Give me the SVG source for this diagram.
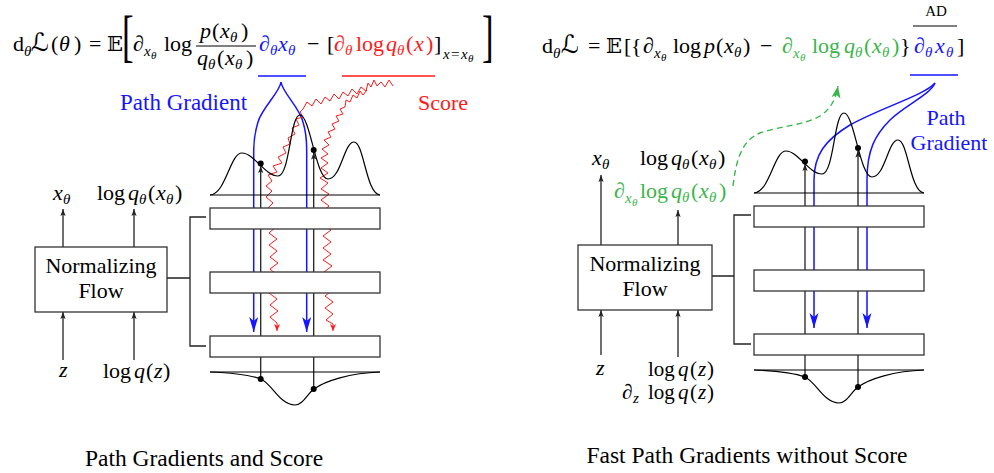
<svg xmlns="http://www.w3.org/2000/svg" width="994" height="473" viewBox="0 0 994 473">
<style>
.f{font-family:"Liberation Serif","DejaVu Serif",serif;font-size:22px;fill:#000}
.i{font-style:italic}
.s{font-size:15px}
.ss{font-size:11px}
.m{font-family:"DejaVu Serif","DejaVu Sans",serif;font-size:21px}
.L{font-size:25px}
.q{font-size:21px}
.b{fill:#1515ff}
.r{fill:#ff1a1a}
.g{fill:#3bb54a}
.ln{stroke:#222;stroke-width:1.3;fill:none}
.box{fill:#fff;stroke:#333;stroke-width:1.3}
.crv{fill:none;stroke:#000;stroke-width:1.2}
.bl{fill:none;stroke:#1515ff;stroke-width:1.5}
.rd{fill:none;stroke:#ff1a1a;stroke-width:1}
.gd{fill:none;stroke:#3bb54a;stroke-width:1.4;stroke-dasharray:6 4}
.dot{fill:#000}
</style>
<defs>
<marker id="ak" viewBox="-7 -3 8 6" refX="0" refY="0" markerWidth="8" markerHeight="6" markerUnits="userSpaceOnUse" orient="auto"><path d="M0,0 L-7,-2.6 L-5.5,0 L-7,2.6 Z" fill="#222"/></marker>
<marker id="ab" viewBox="-15 -5 16 10" refX="0" refY="0" markerWidth="16" markerHeight="10" markerUnits="userSpaceOnUse" orient="auto"><path d="M0,0 L-15,-4.5 L-11,0 L-15,4.5 Z" fill="#1515ff"/></marker>
<marker id="ar" viewBox="-7 -3 8 6" refX="0" refY="0" markerWidth="8" markerHeight="6" markerUnits="userSpaceOnUse" orient="auto"><path d="M0,0 L-7,-3 L-5,0 L-7,3 Z" fill="#ff1a1a"/></marker>
<marker id="ag" viewBox="-12 -5 13 10" refX="0" refY="0" markerWidth="13" markerHeight="10" markerUnits="userSpaceOnUse" orient="auto"><path d="M0,0 L-12,-4.5 L-9,0 L-12,4.5 Z" fill="#3bb54a"/></marker>
<path id="topc" d="M210,195 C226,194 230,153 242,153 C254,153 265,176 278,176 C290,176 290,115 300,115 C310,115 316,179 328,179 C341,179 344,142 354,142 C364,142 366,194 380,195"/>
<path id="botc" d="M210,372 C235,373 250,375 261,379 C272,384 280,405 295,405 C303,405 307,394 314,389 C325,381 350,373 380,372"/>
</defs>

<!-- connectors -->
<g id="connectors">
  <line class="ln" x1="63" y1="247" x2="63" y2="209" marker-end="url(#ak)"/>
  <line class="ln" x1="134" y1="247" x2="134" y2="209" marker-end="url(#ak)"/>
  <line class="ln" x1="63" y1="360" x2="63" y2="312" marker-end="url(#ak)"/>
  <line class="ln" x1="134" y1="360" x2="134" y2="312" marker-end="url(#ak)"/>
  <path class="ln" d="M167,278 H190 M206,217 H190 V346 H206"/>
  <line class="ln" x1="601" y1="245" x2="601" y2="175" marker-end="url(#ak)"/>
  <line class="ln" x1="678" y1="245" x2="678" y2="210" marker-end="url(#ak)"/>
  <line class="ln" x1="601" y1="355" x2="601" y2="310" marker-end="url(#ak)"/>
  <line class="ln" x1="678" y1="357" x2="678" y2="310" marker-end="url(#ak)"/>
  <path class="ln" d="M712,276 H734 M751,215 H734 V344 H751"/>
  <line class="ln" x1="260.7" y1="379" x2="260.7" y2="166" marker-end="url(#ak)"/>
  <line class="ln" x1="313.7" y1="389" x2="313.7" y2="152.5" marker-end="url(#ak)"/>
  <path class="bl" d="M281,82 C280,92 262,108 258,122 C255,132 253.7,140 253.7,150 L253.7,332" marker-end="url(#ab)"/>
  <path class="bl" d="M281,82 C282,92 300,108 303,122 C306,132 306.7,140 306.7,150 L306.7,332" marker-end="url(#ab)"/>
  <path class="rd" marker-end="url(#ar)" d="M393,86 L389,80 L385,87 L381,82 L377,86 L374,80 L371,87 L368,83 L366,91 L361,87 L357,94 L352,89 L348,96 L343,92 L339,99 L334,94 L330,101 L325,97 L321,104 L316,99 L312,106 L307,102 L303,109 L300,112 L303,117 L296,119 L299,125 L292,128 L295,134 L288,138 L290,144 L283,147 L286,153 L278,157 L282,163 L273,166 L277,172 L268,175 L272,181 L266,186 L272,191 L266,197 L273,203 L267,209 L275,215 L268,221 L276,227 L269,233 L277,239 L269,245 L277,251 L270,257 L278,263 L270,269 L277,275 L269,281 L277,287 L269,293 L277,299 L270,305 L278,311 L270,317 L277,323 L277,331"/>
  <path class="rd" marker-end="url(#ar)" d="M367,90 L363,95 L360,91 L357,98 L353,95 L350,102 L346,100 L345,107 L340,109 L343,114 L336,116 L339,121 L332,124 L335,129 L328,132 L331,137 L324,140 L329,145 L322,149 L328,154 L321,158 L328,163 L321,168 L328,173 L320,178 L328,183 L321,189 L329,194 L321,200 L329,206 L322,212 L330,218 L322,224 L331,230 L323,236 L331,242 L323,248 L331,254 L323,260 L332,266 L324,272 L332,278 L324,284 L333,290 L325,296 L333,302 L325,308 L333,314 L326,320 L333,324 L333,331"/>
  <line class="ln" x1="805" y1="377" x2="805" y2="164" marker-end="url(#ak)"/>
  <line class="ln" x1="858" y1="387" x2="858" y2="150.5" marker-end="url(#ak)"/>
  <path class="bl" d="M935,83 C925,95 880,108 850,125 C825,140 814,155 814,180 L814,328" marker-end="url(#ab)"/>
  <path class="bl" d="M935,83 C930,95 905,105 890,120 C875,135 867,150 867,180 L867,328" marker-end="url(#ab)"/>
  <path class="gd" d="M733,186 C736,160 742,140 760,133 C780,126 805,125 820,116 C832,108 836,98 838,86" marker-end="url(#ag)"/>
</g>

<g id="nf-left">
  <rect class="box" x="35" y="247" width="132" height="65"/>
  <text class="f" x="101" y="273" text-anchor="middle">Normalizing</text>
  <text class="f" x="101" y="298" text-anchor="middle">Flow</text>
</g>
<g id="layers-left">
  <rect class="box" x="210" y="208" width="170" height="21"/>
  <rect class="box" x="210" y="272" width="170" height="21"/>
  <rect class="box" x="210" y="336" width="170" height="21"/>
</g>
<g id="target-density-left">
  <line class="crv" x1="210" y1="195" x2="380" y2="195"/>
  <use href="#topc" class="crv"/>
  <circle class="dot" cx="260.7" cy="163.5" r="3"/>
  <circle class="dot" cx="313.7" cy="150" r="3"/>
</g>
<g id="base-density-left">
  <line class="crv" x1="210" y1="372" x2="380" y2="372"/>
  <use href="#botc" class="crv"/>
  <circle class="dot" cx="260.7" cy="379" r="3"/>
  <circle class="dot" cx="313.7" cy="389" r="3"/>
</g>

<g id="nf-right">
  <rect class="box" x="578" y="245" width="134" height="65"/>
  <text class="f" x="645" y="271" text-anchor="middle">Normalizing</text>
  <text class="f" x="645" y="296" text-anchor="middle">Flow</text>
</g>
<g id="layers-right">
  <rect class="box" x="754" y="206" width="170" height="21"/>
  <rect class="box" x="754" y="270" width="170" height="21"/>
  <rect class="box" x="754" y="334" width="170" height="21"/>
</g>
<g id="target-density-right" transform="translate(544,-2)">
  <line class="crv" x1="210" y1="195" x2="380" y2="195"/>
  <use href="#topc" class="crv"/>
</g>
<g id="base-density-right" transform="translate(544,-2)">
  <line class="crv" x1="210" y1="372" x2="380" y2="372"/>
  <use href="#botc" class="crv"/>
</g>
<g id="dots-right">
  <circle class="dot" cx="805" cy="161.5" r="3"/>
  <circle class="dot" cx="858" cy="148" r="3"/>
  <circle class="dot" cx="805" cy="377" r="3"/>
  <circle class="dot" cx="858" cy="387" r="3"/>
</g>

<g id="formula-left" class="f">
  <text x="13" y="51">d</text>
  <text x="24" y="56" class="s i">θ</text>
  <text x="31" y="51" class="m L">ℒ</text>
  <text x="51" y="51">(</text>
  <text x="59" y="51" class="i">θ</text>
  <text x="74" y="51">)</text>
  <text x="89" y="51">=</text>
  <text x="107" y="51" class="m">𝔼</text>
  <text transform="translate(122,55.4) scale(0.6,1)" style="font-size:58px">[</text>
  <text x="133" y="51" class="i">∂</text>
  <text x="144" y="56" class="s i">x</text>
  <text x="151" y="59" class="ss i">θ</text>
  <text x="164" y="51">log</text>
  <text x="200" y="38" class="i">p</text>
  <text x="212" y="38">(</text>
  <text x="220" y="38" class="i">x</text>
  <text x="230" y="42" class="s i">θ</text>
  <text x="241" y="38">)</text>
  <line x1="196" y1="46" x2="256" y2="46" stroke="#000" stroke-width="1"/>
  <text x="197" y="65" class="i">q</text>
  <text x="208" y="69" class="s i">θ</text>
  <text x="217" y="65">(</text>
  <text x="225" y="65" class="i">x</text>
  <text x="235" y="69" class="s i">θ</text>
  <text x="246" y="65">)</text>
  <text x="259" y="51" class="i b">∂</text>
  <text x="270" y="55" class="s i b">θ</text>
  <text x="278" y="51" class="i b">x</text>
  <text x="288" y="55" class="s i b">θ</text>
  <text x="307" y="51">−</text>
  <text x="327" y="51">[</text>
  <text x="334" y="51" class="i r">∂</text>
  <text x="345" y="55" class="s i r">θ</text>
  <text x="356" y="51" class="r">log</text>
  <text x="386" y="51" class="i r">q</text>
  <text x="397" y="55" class="s i r">θ</text>
  <text x="406" y="51" class="r">(</text>
  <text x="414" y="51" class="i r">x</text>
  <text x="426" y="51" class="r">)</text>
  <text x="434" y="51">]</text>
  <text x="443" y="59" class="s i">x</text>
  <text x="451" y="59" class="s">=</text>
  <text x="461" y="59" class="s i">x</text>
  <text x="468" y="62" class="ss i">θ</text>
  <text transform="translate(482,55.4) scale(0.6,1)" style="font-size:58px">]</text>
</g>

<g id="formula-right" class="f">
  <text x="542" y="53">d</text>
  <text x="553" y="58" class="s i">θ</text>
  <text x="561" y="53" class="m L">ℒ</text>
  <text x="588" y="53">=</text>
  <text x="606" y="53" class="m">𝔼</text>
  <text x="624" y="53">[</text>
  <text x="631" y="53">{</text>
  <text x="643" y="53" class="i">∂</text>
  <text x="654" y="58" class="s i">x</text>
  <text x="661" y="61" class="ss i">θ</text>
  <text x="673" y="53">log</text>
  <text x="704" y="53" class="i">p</text>
  <text x="716" y="53">(</text>
  <text x="724" y="53" class="i">x</text>
  <text x="734" y="57" class="s i">θ</text>
  <text x="743" y="53">)</text>
  <text x="760" y="53">−</text>
  <text x="782" y="53" class="i g">∂</text>
  <text x="793" y="58" class="s i g">x</text>
  <text x="800" y="61" class="ss i g">θ</text>
  <text x="812" y="53" class="g">log</text>
  <text x="844" y="53" class="i g">q</text>
  <text x="855" y="57" class="s i g">θ</text>
  <text x="864" y="53" class="g">(</text>
  <text x="872" y="53" class="i g">x</text>
  <text x="882" y="57" class="s i g">θ</text>
  <text x="892" y="53" class="g">)</text>
  <text x="900" y="53">}</text>
  <text x="914" y="53" class="i b">∂</text>
  <text x="925" y="57" class="s i b">θ</text>
  <text x="935" y="53" class="i b">x</text>
  <text x="946" y="57" class="s i b">θ</text>
  <text x="957" y="53">]</text>
  <line x1="913" y1="26" x2="957" y2="26" stroke="#000" stroke-width="1.2"/>
  <text x="936" y="16" text-anchor="middle" style="font-size:15px">AD</text>
</g>

<g id="labels" class="f">
  <line x1="258" y1="76" x2="306" y2="76" stroke="#1515ff" stroke-width="1.5"/>
  <line x1="342" y1="76" x2="435" y2="76" stroke="#ff1a1a" stroke-width="1.5"/>
  <line x1="910" y1="75" x2="958" y2="75" stroke="#1515ff" stroke-width="1.5"/>
  <text x="120" y="110" class="b" style="font-size:23px">Path Gradient</text>
  <text x="418" y="110" class="r">Score</text>
  <text x="946" y="125" class="b" text-anchor="middle">Path</text>
  <text x="949" y="150" class="b" text-anchor="middle">Gradient</text>
  <text x="53" y="200" class="i">x</text>
  <text x="63" y="204" class="s i">θ</text>
  <text x="97" y="200">log</text>
  <text x="128" y="200" class="i">q</text>
  <text x="139" y="204" class="s i">θ</text>
  <text x="148" y="200">(</text>
  <text x="156" y="200" class="i">x</text>
  <text x="166" y="204" class="s i">θ</text>
  <text x="175" y="200">)</text>
  <text x="59" y="377" class="i">z</text>
  <text x="103" y="378">log</text>
  <text x="134" y="378" class="i">q</text>
  <text x="146" y="378">(</text>
  <text x="154" y="378" class="i">z</text>
  <text x="163" y="378">)</text>
  <text x="592" y="165" class="i">x</text>
  <text x="602" y="169" class="s i">θ</text>
  <text x="640" y="165">log</text>
  <text x="671" y="165" class="i">q</text>
  <text x="682" y="169" class="s i">θ</text>
  <text x="691" y="165">(</text>
  <text x="699" y="165" class="i">x</text>
  <text x="709" y="169" class="s i">θ</text>
  <text x="718" y="165">)</text>
  <text x="614" y="198" class="i g">∂</text>
  <text x="625" y="203" class="s i g">x</text>
  <text x="632" y="206" class="ss i g">θ</text>
  <text x="640" y="198" class="g">log</text>
  <text x="671" y="198" class="i g">q</text>
  <text x="682" y="202" class="s i g">θ</text>
  <text x="691" y="198" class="g">(</text>
  <text x="699" y="198" class="i g">x</text>
  <text x="709" y="202" class="s i g">θ</text>
  <text x="719" y="198" class="g">)</text>
  <text x="596" y="375" class="i">z</text>
  <text x="648" y="376" class="q">log</text>
  <text x="678" y="376" class="i q">q</text>
  <text x="690" y="376" class="q">(</text>
  <text x="698" y="376" class="i q">z</text>
  <text x="707" y="376" class="q">)</text>
  <text x="622" y="399" class="i q">∂</text>
  <text x="633" y="403" class="s i">z</text>
  <text x="648" y="399" class="q">log</text>
  <text x="678" y="399" class="i q">q</text>
  <text x="690" y="399" class="q">(</text>
  <text x="698" y="399" class="i q">z</text>
  <text x="707" y="399" class="q">)</text>
  <text x="204" y="466" text-anchor="middle" style="font-size:23.5px">Path Gradients and Score</text>
  <text x="747" y="463" text-anchor="middle" style="font-size:23.5px">Fast Path Gradients without Score</text>
</g>
</svg>
